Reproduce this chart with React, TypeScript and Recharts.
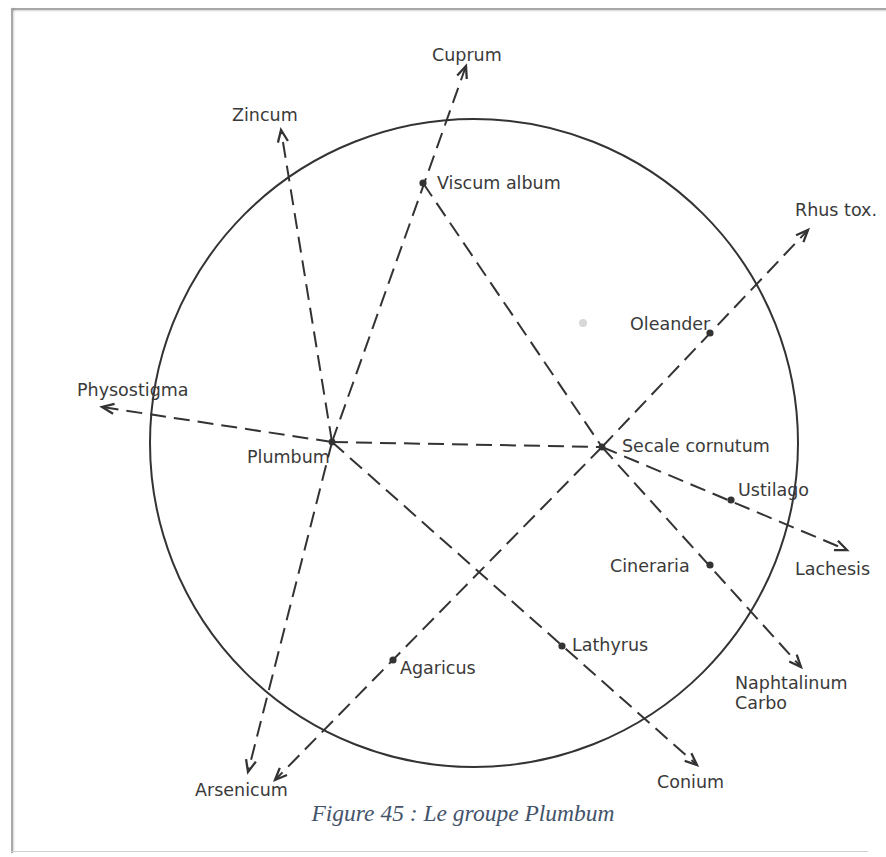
import React from 'react';
import { ScatterChart, XAxis, YAxis, ReferenceLine, ReferenceArea, ReferenceDot, Scatter } from 'recharts';

const W = 886;
const H = 857;

// Diagram coordinates (picture units, y grows downward)
const circleBox = { x1: 150, x2: 798, y1: 119, y2: 767 };

const hubs = [
  { name: 'Plumbum', x: 332, y: 442 },
  { name: 'Secale cornutum', x: 602, y: 447 },
];

const remedyDots = [
  { name: 'Viscum album', x: 423, y: 183 },
  { name: 'Oleander', x: 710, y: 333 },
  { name: 'Ustilago', x: 731, y: 500 },
  { name: 'Cineraria', x: 710, y: 565 },
  { name: 'Agaricus', x: 393, y: 660 },
  { name: 'Lathyrus', x: 562, y: 646 },
];

const smudges = [{ x: 583, y: 323 }];

const arrowTips = {
  Zincum: { x: 281, y: 130 },
  Cuprum: { x: 466, y: 66 },
  Physostigma: { x: 102, y: 407 },
  Conium: { x: 697, y: 765 },
  ArsenicumA: { x: 248, y: 772 },
  ArsenicumB: { x: 275, y: 780 },
  Rhus: { x: 808, y: 230 },
  Lachesis: { x: 847, y: 550 },
  Naphtalinum: { x: 801, y: 667 },
};

const P = hubs[0];
const S = hubs[1];
const V = remedyDots[0];

const segments = [
  { from: P, to: arrowTips.Zincum, arrow: true },
  { from: P, to: arrowTips.Cuprum, arrow: true },
  { from: P, to: arrowTips.Physostigma, arrow: true },
  { from: P, to: S, arrow: false },
  { from: P, to: arrowTips.Conium, arrow: true },
  { from: P, to: arrowTips.ArsenicumA, arrow: true },
  { from: V, to: S, arrow: false },
  { from: S, to: arrowTips.Rhus, arrow: true },
  { from: S, to: arrowTips.Lachesis, arrow: true },
  { from: S, to: arrowTips.Naphtalinum, arrow: true },
  { from: S, to: arrowTips.ArsenicumB, arrow: true },
];

// label left edge x, vertical centre y
const labels = [
  { name: 'Cuprum', x: 432, y: 55 },
  { name: 'Zincum', x: 232, y: 115 },
  { name: 'Viscum album', x: 437, y: 183 },
  { name: 'Rhus tox.', x: 795, y: 210 },
  { name: 'Oleander', x: 630, y: 324 },
  { name: 'Physostigma', x: 77, y: 390 },
  { name: 'Plumbum', x: 247, y: 457 },
  { name: 'Secale cornutum', x: 622, y: 446 },
  { name: 'Ustilago', x: 738, y: 490 },
  { name: 'Lachesis', x: 795, y: 569 },
  { name: 'Cineraria', x: 610, y: 566 },
  { name: 'Lathyrus', x: 572, y: 645 },
  { name: 'Agaricus', x: 400, y: 668 },
  { name: 'Naphtalinum', x: 735, y: 683 },
  { name: 'Carbo', x: 735, y: 703 },
  { name: 'Conium', x: 657, y: 782 },
  { name: 'Arsenicum', x: 195, y: 790 },
];

const caption = { text: 'Figure 45 : Le groupe Plumbum', x: 463, y: 813 };

const INK = '#333333';
const LABEL_FONT = '"DejaVu Sans", "Open Sans", sans-serif';

function SegmentShape(props: any) {
  const { x1, y1, x2, y2, arrow } = props;
  if ([x1, y1, x2, y2].some((v) => typeof v !== 'number' || isNaN(v))) return null;
  const ang = Math.atan2(y2 - y1, x2 - x1);
  const L = 13;
  const a = 0.4;
  const ax1 = x2 - L * Math.cos(ang - a);
  const ay1 = y2 - L * Math.sin(ang - a);
  const ax2 = x2 - L * Math.cos(ang + a);
  const ay2 = y2 - L * Math.sin(ang + a);
  return (
    <g>
      <line x1={x1} y1={y1} x2={x2} y2={y2} stroke={INK} strokeWidth={2} strokeDasharray="16 8" />
      {arrow && (
        <path
          d={`M${ax1},${ay1} L${x2},${y2} L${ax2},${ay2}`}
          fill="none"
          stroke={INK}
          strokeWidth={2.3}
          strokeLinejoin="miter"
        />
      )}
    </g>
  );
}

function CircleShape(props: any) {
  const { x, y, width, height } = props;
  return (
    <ellipse
      cx={x + width / 2}
      cy={y + height / 2}
      rx={width / 2}
      ry={height / 2}
      fill="none"
      stroke={INK}
      strokeWidth={2}
    />
  );
}

function DotShape(props: any) {
  const { cx, cy } = props;
  return <circle cx={cx} cy={cy} r={3.6} fill={INK} />;
}

function HubShape(props: any) {
  const { cx, cy } = props;
  return <circle cx={cx} cy={cy} r={3.4} fill={INK} />;
}

function SmudgeShape(props: any) {
  const { cx, cy } = props;
  return <circle cx={cx} cy={cy} r={4} fill="#d8d8d8" />;
}

function LabelShape(props: any) {
  const { cx, cy, payload } = props;
  return (
    <text
      x={cx}
      y={cy}
      dy="0.36em"
      fontFamily={LABEL_FONT}
      fontSize={17.5}
      fill="#3a3a3a"
      textAnchor="start"
    >
      {payload.name}
    </text>
  );
}

function CaptionShape(props: any) {
  const { cx, cy } = props;
  return (
    <text
      x={cx}
      y={cy}
      dy="0.35em"
      textAnchor="middle"
      fontFamily='"Liberation Serif", "Times New Roman", serif'
      fontStyle="italic"
      fontSize={23.5}
      fill="#44546A"
    >
      {caption.text}
    </text>
  );
}

export default function App() {
  return (
    <div style={{ position: 'absolute', left: 0, top: 0, width: W, height: H, background: '#fff', overflow: 'hidden' }}>
      {/* page frame */}
      <div style={{ position: 'absolute', left: 11, top: 8, width: 886, height: 2, background: '#a8a8a8', boxShadow: '0 1px 2px rgba(0,0,0,0.18)' }} />
      <div style={{ position: 'absolute', left: 11, top: 8, width: 2, height: 845, background: '#a8a8a8', boxShadow: '1px 0 2px rgba(0,0,0,0.18)' }} />
      <div style={{ position: 'absolute', left: 11, top: 851, width: 857, height: 1, background: '#d0d0d0' }} />
      <div style={{ position: 'absolute', left: 0, top: 0 }}>
        <ScatterChart width={W} height={H} margin={{ top: 0, right: 0, bottom: 0, left: 0 }}>
          <XAxis type="number" dataKey="x" domain={[0, W]} hide allowDataOverflow />
          <YAxis type="number" dataKey="y" domain={[0, H]} reversed hide allowDataOverflow />
          <ReferenceArea
            x1={circleBox.x1}
            x2={circleBox.x2}
            y1={circleBox.y1}
            y2={circleBox.y2}
            ifOverflow="visible"
            shape={(p: any) => <CircleShape {...p} />}
          />
          {segments.map((s, i) => (
            <ReferenceLine
              key={i}
              segment={[
                { x: s.from.x, y: s.from.y },
                { x: s.to.x, y: s.to.y },
              ]}
              ifOverflow="visible"
              shape={(p: any) => <SegmentShape {...p} arrow={s.arrow} />}
            />
          ))}
          <Scatter data={smudges} shape={SmudgeShape} isAnimationActive={false} />
          <Scatter data={hubs} shape={HubShape} isAnimationActive={false} />
          <Scatter data={remedyDots} shape={DotShape} isAnimationActive={false} />
          <Scatter data={labels} shape={LabelShape} isAnimationActive={false} />
          <ReferenceDot
            x={caption.x}
            y={caption.y}
            r={0}
            ifOverflow="visible"
            shape={(p: any) => <CaptionShape {...p} />}
          />
        </ScatterChart>
      </div>
    </div>
  );
}
